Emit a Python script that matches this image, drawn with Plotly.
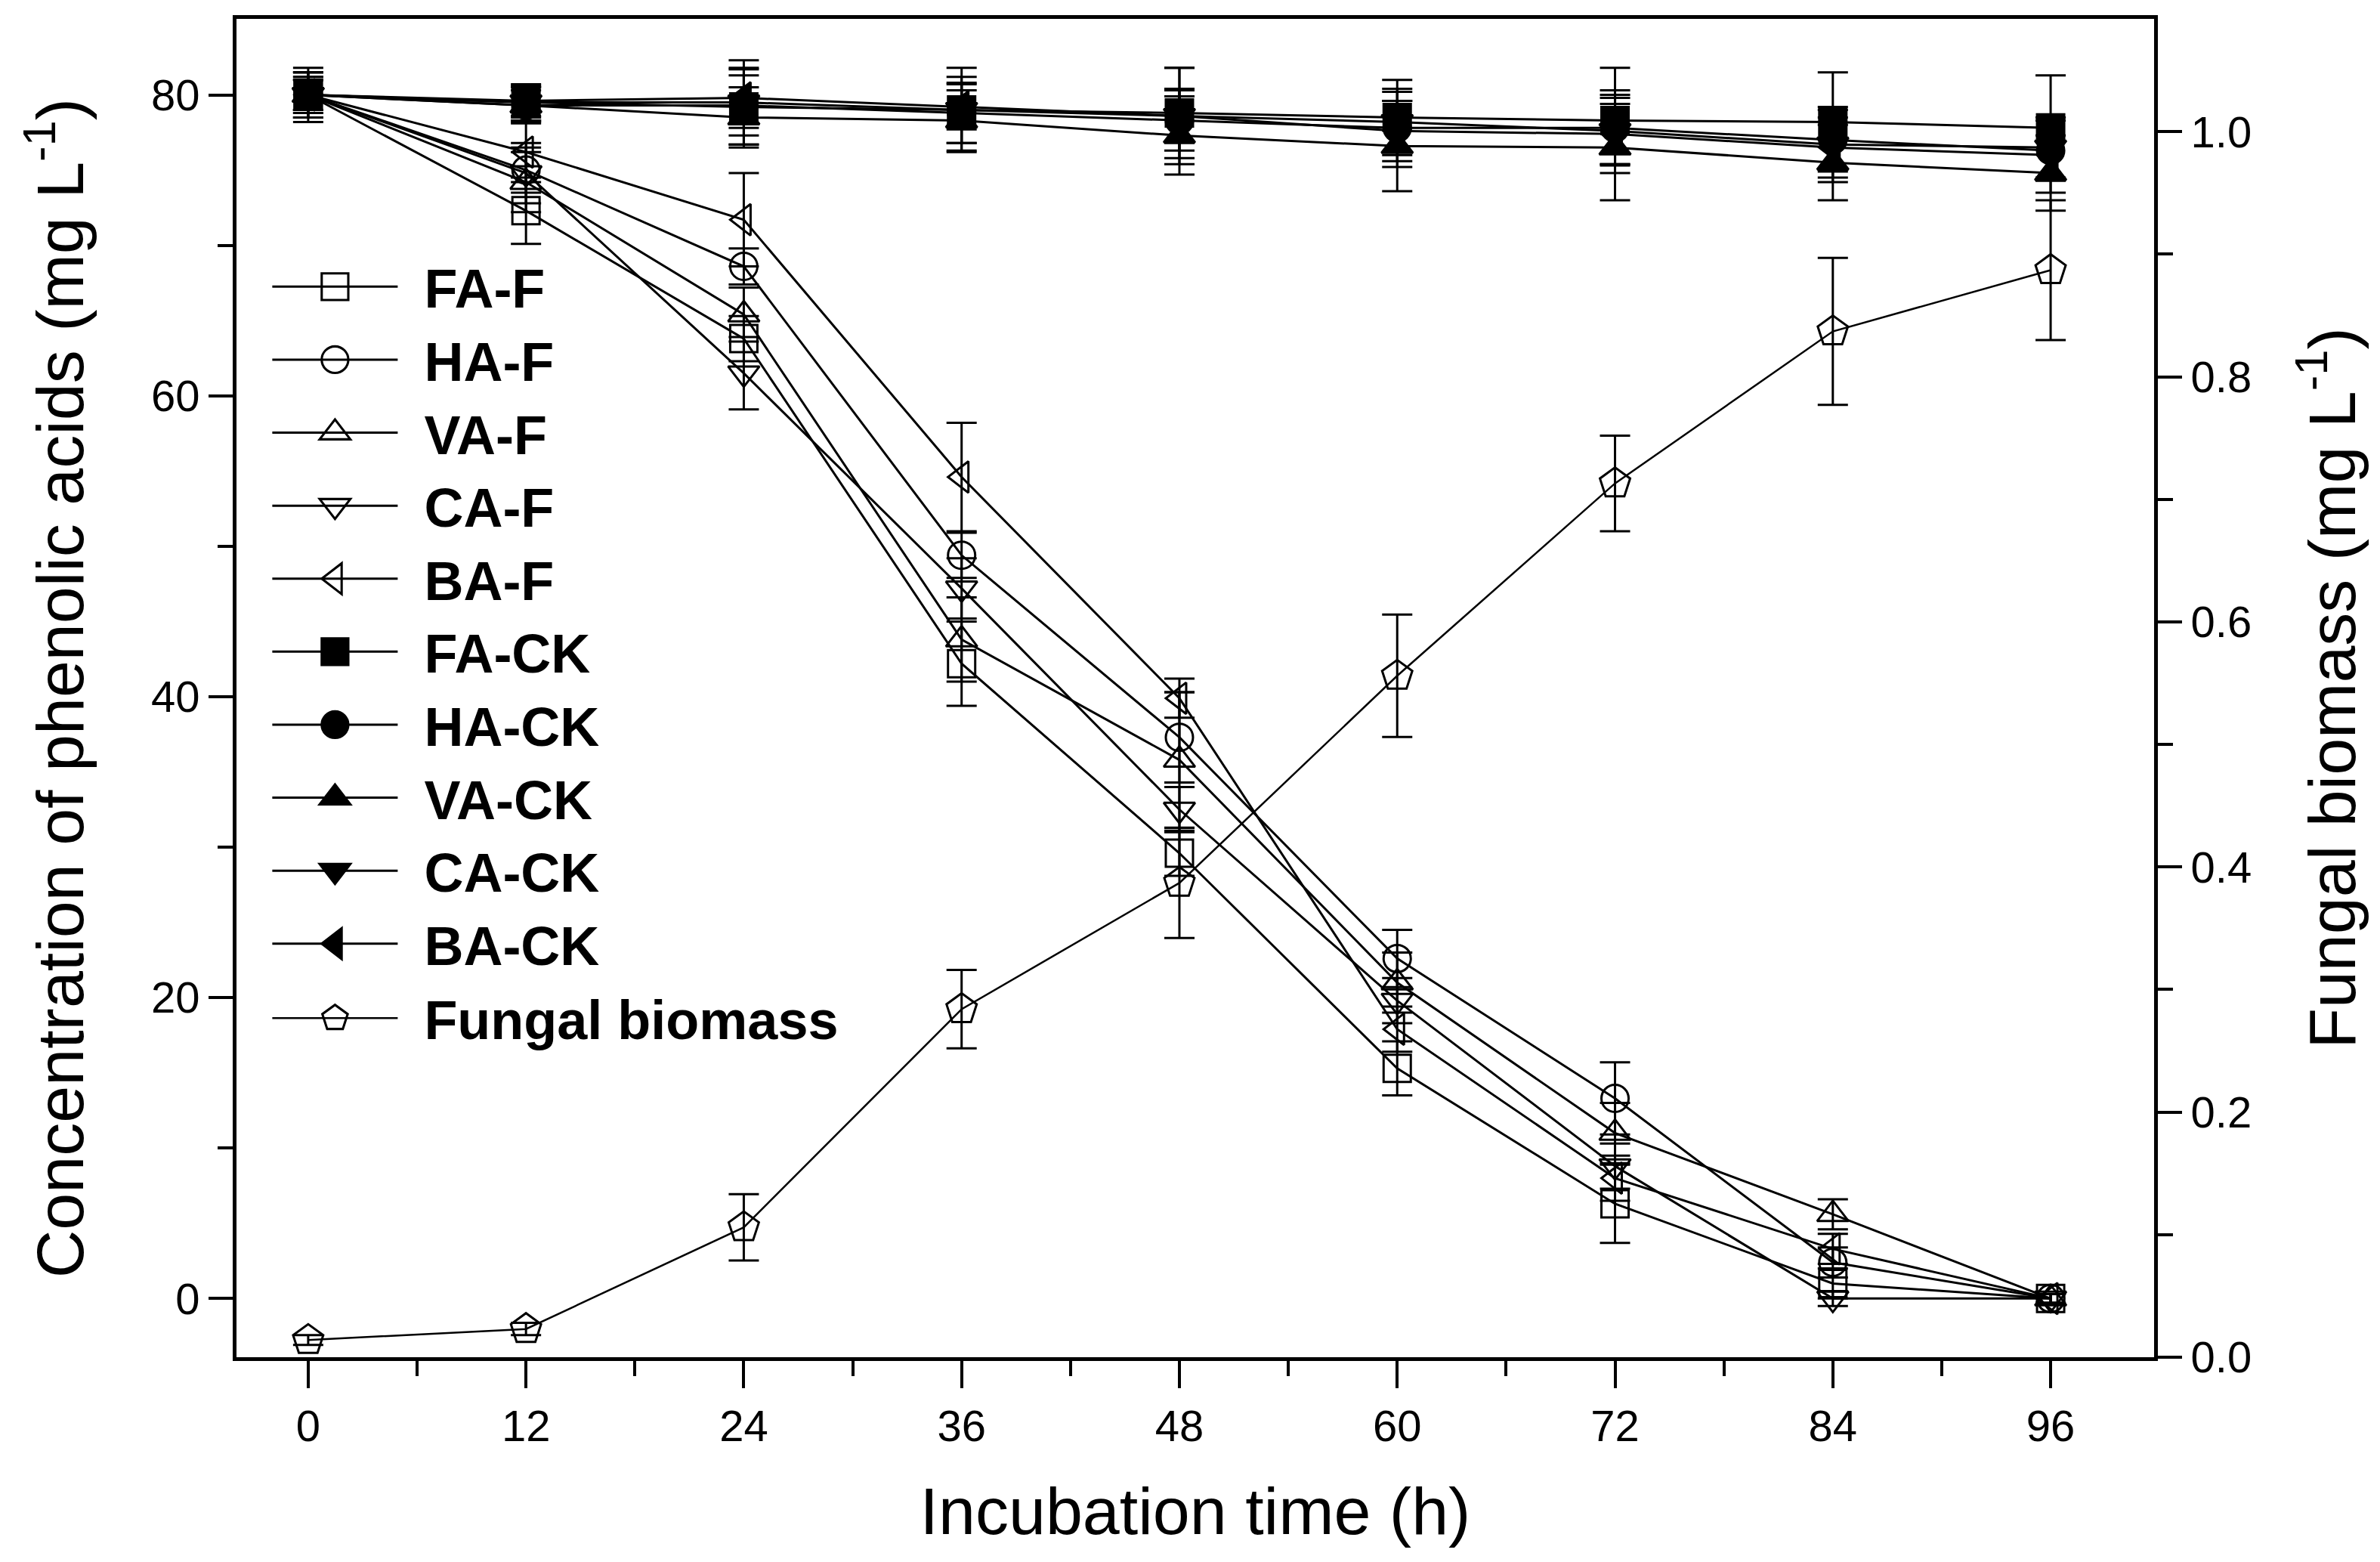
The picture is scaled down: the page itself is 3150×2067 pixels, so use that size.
import plotly.graph_objects as go

# ---------------- data ----------------
time_h = [0, 12, 24, 36, 48, 60, 72, 84, 96]

fa_f = [80.0, 72.3, 63.8, 42.2, 29.6, 15.3, 6.3, 1.0, 0.0]
ha_f = [80.0, 75.0, 68.6, 49.4, 37.3, 22.6, 13.3, 2.4, 0.0]
va_f = [80.0, 74.2, 65.4, 43.8, 35.8, 21.0, 11.0, 5.6, 0.0]
ca_f = [80.0, 74.8, 61.5, 47.2, 32.5, 19.8, 8.8, 0.0, 0.0]
ba_f = [80.0, 76.2, 71.7, 54.6, 39.9, 17.9, 8.0, 3.3, 0.0]

fa_f_err = [1.0, 2.2, 1.5, 2.8, 1.5, 1.8, 2.6, 1.0, 0.3]
ha_f_err = [1.2, 1.5, 1.2, 1.5, 3.0, 1.9, 2.4, 1.0, 0.3]
va_f_err = [1.0, 2.0, 1.8, 2.8, 4.5, 2.0, 2.0, 1.0, 0.3]
ca_f_err = [1.5, 2.0, 2.4, 2.0, 1.5, 1.5, 1.5, 0.5, 0.3]
ba_f_err = [1.0, 2.0, 3.1, 3.6, 1.3, 1.5, 1.5, 1.0, 0.3]

fa_ck = [80.0, 79.5, 79.2, 79.0, 78.8, 78.5, 78.3, 78.2, 77.8]
ha_ck = [80.0, 79.3, 79.3, 78.8, 78.3, 77.8, 77.8, 77.0, 76.3]
va_ck = [80.0, 79.3, 78.5, 78.3, 77.3, 76.6, 76.5, 75.5, 74.8]
ca_ck = [80.0, 79.5, 79.5, 79.0, 78.6, 78.2, 77.6, 76.7, 76.5]
ba_ck = [80.0, 79.6, 79.8, 79.2, 78.6, 77.6, 77.4, 76.5, 76.0]

fa_ck_err = [1.5, 1.2, 2.5, 2.8, 3.0, 2.5, 3.5, 3.3, 3.5]
ha_ck_err = [1.5, 1.0, 2.0, 2.0, 2.0, 2.6, 2.5, 2.0, 2.0]
va_ck_err = [1.2, 1.2, 2.0, 2.0, 2.6, 3.0, 3.5, 2.5, 2.5]
ca_ck_err = [1.8, 1.0, 2.8, 2.2, 3.2, 2.0, 2.2, 2.5, 2.0]
ba_ck_err = [1.0, 1.0, 2.0, 1.5, 1.8, 2.0, 2.0, 2.0, 2.5]

biomass = [0.014, 0.023, 0.106, 0.284, 0.387, 0.556, 0.713, 0.837, 0.887]
biomass_err = [0.004, 0.005, 0.027, 0.032, 0.045, 0.050, 0.039, 0.060, 0.057]

x_ticks = [0, 12, 24, 36, 48, 60, 72, 84, 96]
y_ticks = [0, 20, 40, 60, 80]
y2_ticks = [0.0, 0.2, 0.4, 0.6, 0.8, 1.0]

# ---------------- figure ----------------
FONT = "Liberation Sans, Arial, sans-serif"
fig = go.Figure()

treat = [
    ("FA-F", fa_f, fa_f_err, "square-open"),
    ("HA-F", ha_f, ha_f_err, "circle-open"),
    ("VA-F", va_f, va_f_err, "triangle-up-open"),
    ("CA-F", ca_f, ca_f_err, "triangle-down-open"),
    ("BA-F", ba_f, ba_f_err, "triangle-left-open"),
    ("FA-CK", fa_ck, fa_ck_err, "square"),
    ("HA-CK", ha_ck, ha_ck_err, "circle"),
    ("VA-CK", va_ck, va_ck_err, "triangle-up"),
    ("CA-CK", ca_ck, ca_ck_err, "triangle-down"),
    ("BA-CK", ba_ck, ba_ck_err, "triangle-left"),
]

for name, vals, err, sym in treat:
    fig.add_trace(go.Scatter(
        x=time_h, y=vals, name=name, mode="lines+markers",
        legendgroup="acids",
        line=dict(color="black", width=3),
        marker=dict(symbol=sym, size=36, color="black",
                    line=dict(color="black", width=3)),
        error_y=dict(type="data", array=err, visible=True,
                     color="black", thickness=3, width=20),
    ))

fig.add_trace(go.Scatter(
    x=time_h, y=biomass, name="Fungal biomass", mode="lines+markers",
    yaxis="y2", legendgroup="bio",
    line=dict(color="black", width=2.5),
    marker=dict(symbol="pentagon-open", size=42, color="black",
                line=dict(color="black", width=3)),
    error_y=dict(type="data", array=biomass_err, visible=True,
                 color="black", thickness=3, width=20),
))

tickfont = dict(family=FONT, size=58, color="black")
titlefont = dict(family=FONT, size=88, color="black")

fig.update_layout(
    width=3150, height=2067,
    margin=dict(l=305, r=307, t=14, b=279),
    paper_bgcolor="white", plot_bgcolor="white",
    showlegend=True,
    legend=dict(
        x=0.0167, y=0.83, xanchor="left", yanchor="top",
        bgcolor="rgba(0,0,0,0)", borderwidth=0,
        font=dict(family=FONT, size=72, color="black", weight="bold"),
        itemwidth=196, tracegroupgap=2,
    ),
    xaxis=dict(
        range=[-3.95, 101.7], tickvals=x_ticks,
        ticktext=[str(v) for v in x_ticks],
        ticks="outside", ticklen=36, tickwidth=4, tickcolor="black",
        minor=dict(dtick=6, tick0=0, ticks="outside", ticklen=20,
                   tickwidth=4, tickcolor="black"),
        showline=True, linewidth=5, linecolor="black", mirror=True,
        showgrid=False, zeroline=False,
        tickfont=tickfont,
        title=dict(text="Incubation time (h)", font=titlefont, standoff=52),
    ),
    yaxis=dict(
        range=[-3.9, 85.05], tickvals=y_ticks,
        ticks="outside", ticklen=32, tickwidth=4, tickcolor="black",
        minor=dict(dtick=10, tick0=0, ticks="outside", ticklen=20,
                   tickwidth=4, tickcolor="black"),
        showline=True, linewidth=5, linecolor="black",
        showgrid=False, zeroline=False,
        tickfont=tickfont,
        title=dict(text="Concentration of phenolic acids (mg L<sup>-1</sup>)",
                   font=titlefont, standoff=62),
    ),
    yaxis2=dict(
        range=[0, 1.092], tickvals=y2_ticks,
        ticktext=["%.1f" % v for v in y2_ticks],
        overlaying="y", side="right",
        ticks="outside", ticklen=32, tickwidth=4, tickcolor="black",
        minor=dict(dtick=0.1, tick0=0, ticks="outside", ticklen=20,
                   tickwidth=4, tickcolor="black"),
        showline=True, linewidth=5, linecolor="black",
        showgrid=False, zeroline=False,
        tickfont=tickfont,
        title=dict(text="Fungal biomass (mg L<sup>-1</sup>)",
                   font=titlefont, standoff=78),
    ),
)

# enlarge the legend glyphs (plotly caps legend marker size at 16 px)
# and leave a small gap between the legend line and its label
post_js = """
(function(){
  var gd = document.getElementById('{plot_id}');
  function fix(){
    gd.querySelectorAll('.legend .traces').forEach(function(tr){
      var line = tr.querySelector('path.js-line');
      var cx = null, cy = 0;
      if(line){
        try {
          var bb = line.getBBox();
          cy = bb.y + bb.height/2;
          if(!line.getAttribute('data-short')){
            var w = bb.width - 30;
            line.setAttribute('d', 'M' + bb.x + ',' + cy + 'h' + w);
            line.setAttribute('data-short', '1');
            cx = bb.x + w/2;
          } else {
            cx = bb.x + bb.width/2;
          }
        } catch(e){}
      }
      tr.querySelectorAll('path.scatterpts').forEach(function(p){
        var x = cx;
        if(x === null){
          var m = (p.getAttribute('transform')||'').match(/translate\\(([-\\d.]+)/);
          x = m ? parseFloat(m[1]) : 20;
        }
        p.setAttribute('transform', 'translate(' + x + ',' + cy + ') scale(2.2)');
        p.style.strokeWidth = '1.4px';
      });
    });
  }
  fix();
  gd.on && gd.on('plotly_afterplot', fix);
})();
"""

fig.write_html("out.html", post_script=post_js)
